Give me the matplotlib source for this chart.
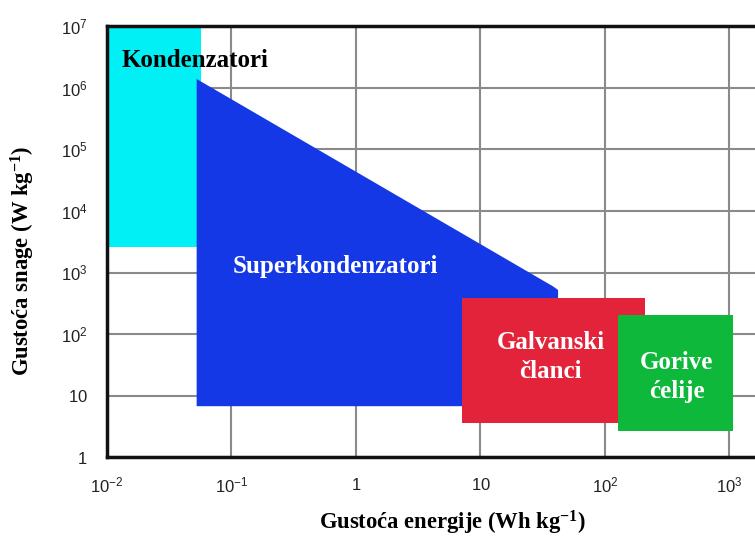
import matplotlib
matplotlib.use("Agg")
import matplotlib.pyplot as plt
from matplotlib.patches import Polygon

# ---- data (energy density Wh/kg, power density W/kg) ----
kond_x = [0.01, 0.057, 0.057, 0.01]
kond_y = [2600, 2600, 1e7, 1e7]

super_x = [0.0525, 0.0525, 38, 42, 42]
super_y = [6.7, 1.4e6, 600, 520, 6.7]

galv_x = [7.1, 210, 210, 7.1]
galv_y = [3.6, 3.6, 380, 380]

gor_x = [127, 1070, 1070, 127]
gor_y = [2.6, 2.6, 200, 200]

x_ticks = [1e-2, 1e-1, 1, 10, 1e2, 1e3]
x_tick_labels = [r'$\mathsf{10^{-2}}$', r'$\mathsf{10^{-1}}$', r'$\mathsf{1}$',
                 r'$\mathsf{10}$', r'$\mathsf{10^{2}}$', r'$\mathsf{10^{3}}$']
y_ticks = [1, 10, 1e2, 1e3, 1e4, 1e5, 1e6, 1e7]
y_tick_labels = [r'$\mathsf{1}$', r'$\mathsf{10}$', r'$\mathsf{10^{2}}$', r'$\mathsf{10^{3}}$',
                 r'$\mathsf{10^{4}}$', r'$\mathsf{10^{5}}$', r'$\mathsf{10^{6}}$', r'$\mathsf{10^{7}}$']

plt.rcParams['mathtext.fontset'] = 'custom'
plt.rcParams['mathtext.rm'] = 'Liberation Serif:bold'
plt.rcParams['mathtext.bf'] = 'Liberation Serif:bold'
plt.rcParams['mathtext.sf'] = 'Liberation Sans'
plt.rcParams['mathtext.default'] = 'rm'

fig = plt.figure(figsize=(7.55, 5.37), dpi=100)
ax = fig.add_axes([107/755, (537-457)/537, (755-107)/755, (457-26.5)/537])
ax.set_xscale('log')
ax.set_yscale('log')
ax.set_xlim(1e-2, 10**3.205)
ax.set_ylim(1, 1e7)

ax.grid(True, which='major', color='#8a8a8a', linewidth=1.5, zorder=0)
ax.minorticks_off()
ax.set_axisbelow(True)

ax.add_patch(Polygon(list(zip(kond_x, kond_y)), closed=True, facecolor='#00F0F5',
                     edgecolor='none', zorder=2))
ax.add_patch(Polygon(list(zip(super_x, super_y)), closed=True, facecolor='#1438E6',
                     edgecolor='none', zorder=3))
ax.add_patch(Polygon(list(zip(galv_x, galv_y)), closed=True, facecolor='#E3233A',
                     edgecolor='none', zorder=4))
ax.add_patch(Polygon(list(zip(gor_x, gor_y)), closed=True, facecolor='#0DB83A',
                     edgecolor='none', zorder=5, clip_on=False))

ax.set_xticks(x_ticks)
ax.set_xticklabels(x_tick_labels)
ax.set_yticks(y_ticks)
ax.set_yticklabels(y_tick_labels)
ax.tick_params(axis='both', length=0, labelsize=12, colors='#222222')
ax.tick_params(axis='x', pad=14)
ax.tick_params(axis='y', pad=14)

for s in ['left', 'bottom', 'top']:
    ax.spines[s].set_linewidth(2.5)
    ax.spines[s].set_color('#111111')
ax.spines['right'].set_visible(False)

serif = 'Liberation Serif'
fs = 18
ax.text(0.01305, 10**6.455, 'Kondenzatori', family=serif, weight='bold', fontsize=fs,
        color='black', ha='left', va='center', zorder=6)
ax.text(0.68, 10**3.09, 'Superkondenzatori', family=serif, weight='bold', fontsize=fs,
        color='white', ha='center', va='center', zorder=6)
ax.text(36.5, 10**1.626, 'Galvanski\nčlanci', family=serif, weight='bold', fontsize=fs,
        color='white', ha='center', va='center', linespacing=1.32, zorder=6)
ax.text(375, 10**1.30, 'Gorive\nćelije', family=serif, weight='bold', fontsize=fs,
        color='white', ha='center', va='center', linespacing=1.36, zorder=6)

fig.text(452/755, 1 - 523/537, r'Gustoća energije (Wh kg$^{-1}$)', family=serif,
         weight='bold', fontsize=16.3, ha='center', va='center')
fig.text(23/755, 1 - 261/537, r'Gustoća snage (W kg$^{-1}$)', family=serif,
         weight='bold', fontsize=16.3, ha='center', va='center', rotation=90)

fig.savefig('out.png', dpi=100)
